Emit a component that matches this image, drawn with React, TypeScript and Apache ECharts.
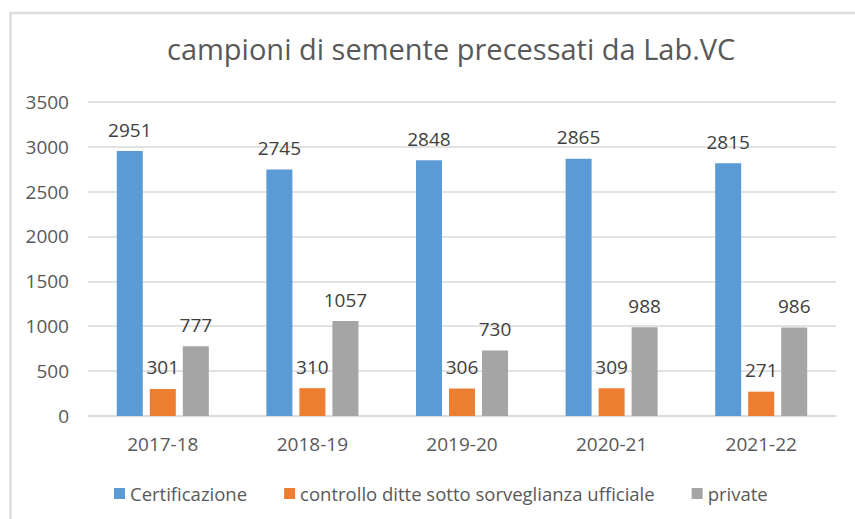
import React, { useEffect, useRef } from "react";
import * as echarts from "echarts";

const categories = ["2017-18", "2018-19", "2019-20", "2020-21", "2021-22"];
const certificazione = [2951, 2745, 2848, 2865, 2815];
const controllo = [301, 310, 306, 309, 271];
const privateVals = [777, 1057, 730, 988, 986];
const seriesNames = ["Certificazione", "controllo ditte sotto sorveglianza ufficiale", "private"];
const colors = ["#5B9BD5", "#ED7D31", "#A5A5A5"];

const FONT = "Open Sans";

export default function App() {
  const ref = useRef<HTMLDivElement>(null);
  useEffect(() => {
    if (!ref.current) return;
    const chart = echarts.init(ref.current, undefined, { renderer: "svg" });
    const label = {
      show: true,
      position: "top",
      distance: 12,
      color: "#404040",
      fontFamily: FONT,
      fontSize: 19,
    };
    const data = [certificazione, controllo, privateVals];
    chart.setOption({
      animation: false,
      backgroundColor: "#ffffff",
      title: {
        text: "campioni di semente precessati da Lab.VC",
        left: 162,
        top: 29,
        textStyle: { color: "#595959", fontFamily: FONT, fontSize: 29, fontWeight: "normal" },
      },
      graphic: [
        {
          type: "rect",
          shape: { x: 10.5, y: 13, width: 860, height: 520 },
          style: { fill: "none", stroke: "#dedede", lineWidth: 2.5 },
          silent: true,
        },
      ],
      legend: {
        top: 479,
        left: 109,
        itemWidth: 11,
        itemHeight: 11,
        itemGap: 37,
        icon: "rect",
        textStyle: { color: "#595959", fontFamily: FONT, fontSize: 18.5 },
        data: seriesNames,
      },
      grid: { left: 88, right: 19, top: 101.7, bottom: 103, containLabel: false },
      xAxis: {
        type: "category",
        data: categories,
        axisTick: { show: false },
        axisLine: { lineStyle: { color: "#d9d9d9", width: 1.5 } },
        axisLabel: { color: "#595959", fontFamily: FONT, fontSize: 19, margin: 18 },
      },
      yAxis: {
        type: "value",
        min: 0,
        max: 3500,
        interval: 500,
        axisLabel: {
          color: "#595959",
          fontFamily: FONT,
          fontSize: 19,
          margin: 19,
          formatter: (v: number) => String(v),
        },
        splitLine: { lineStyle: { color: "#d9d9d9", width: 1.5 } },
        axisLine: { show: false },
        axisTick: { show: false },
      },
      series: seriesNames.map((name, i) => ({
        name,
        type: "bar",
        data: data[i],
        barWidth: 26,
        barGap: "27%",
        itemStyle: { color: colors[i] },
        label,
      })),
    });
    return () => chart.dispose();
  }, []);
  return (
    <div
      ref={ref}
      style={{ position: "fixed", left: 0, top: 0, width: 855, height: 519 }}
    />
  );
}
